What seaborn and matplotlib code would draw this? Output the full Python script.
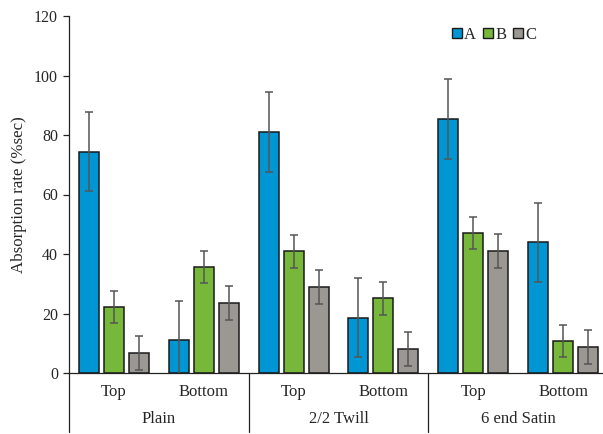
import matplotlib
matplotlib.use("Agg")
import matplotlib.pyplot as plt
import matplotlib.transforms as mtransforms
from matplotlib.patches import Patch
import numpy as np
import pandas as pd
import seaborn as sns

# Fabric structures, each measured on the top and bottom face
structures = ["Plain", "2/2 Twill", "6 end Satin"]
faces = ["Top", "Bottom"]
series = ["A", "B", "C"]

# Absorption rate (%sec), one value per structure/face, in the order
# Plain-Top, Plain-Bottom, Twill-Top, Twill-Bottom, Satin-Top, Satin-Bottom
rate_A = [74.4, 11.1, 81.1, 18.6, 85.3, 43.9]
rate_B = [22.2, 35.6, 40.9, 25.1, 47.1, 10.7]
rate_C = [6.7, 23.5, 29.0, 8.0, 41.1, 8.7]

# Standard deviations for the error bars
err_A = [13.3, 13.2, 13.4, 13.3, 13.4, 13.3]
err_B = [5.5, 5.4, 5.5, 5.5, 5.5, 5.4]
err_C = [5.7, 5.7, 5.7, 5.7, 5.7, 5.7]

colors = {"A": "#0096d3", "B": "#77b83b", "C": "#9b9792"}

sns.set_theme(style="white")
plt.rcParams["font.family"] = ["Liberation Serif", "DejaVu Serif"]

positions = [f"{s}|{f}" for s in structures for f in faces]
rows = []
for name, vals, errs in (("A", rate_A, err_A), ("B", rate_B, err_B), ("C", rate_C, err_C)):
    for pos, v, e in zip(positions, vals, errs):
        rows.append({"pos": pos, "series": name, "rate": v, "err": e})
df = pd.DataFrame(rows)

fig = plt.figure(figsize=(6.03, 4.34), dpi=100)
ax = fig.add_axes([69 / 603, 1 - 373 / 434, (608 - 69) / 603, (373 - 16) / 434])

sns.barplot(data=df, x="pos", y="rate", hue="series", order=positions,
            hue_order=series, palette=colors, errorbar=None, width=0.835,
            gap=0.2, edgecolor="#1a1a1a", linewidth=1.1, saturation=1,
            legend=False, ax=ax)

# error bars at the centre of each drawn bar
for container, name in zip(ax.containers, series):
    sub = df[df["series"] == name].set_index("pos").loc[positions]
    xs = [p.get_x() + p.get_width() / 2 for p in container.patches]
    hs = [p.get_height() for p in container.patches]
    ax.errorbar(xs, hs, yerr=sub["err"].values, fmt="none", ecolor="#555555",
                elinewidth=1.1, capsize=3, capthick=1.1, zorder=5)

ax.set_xlim(-0.5, len(positions) - 0.5)
ax.set_ylim(0, 120)
ax.set_yticks(np.arange(0, 121, 20))
ax.tick_params(axis="y", which="major", direction="out", length=4, width=0.9,
               color="#222222", labelsize=11.5, pad=4, left=True)
ax.tick_params(axis="x", length=0, labelsize=12, pad=8)
ax.set_xticks(range(len(positions)))
ax.set_xticklabels([p.split("|")[1] for p in positions])
ax.set_xlabel("")
ax.set_ylabel("Absorption rate (%sec)", fontsize=12.2, labelpad=5)

for side in ("top", "right"):
    ax.spines[side].set_visible(False)
for side in ("left", "bottom"):
    ax.spines[side].set_color("#222222")
    ax.spines[side].set_linewidth(0.9)

# structure separators and labels below the axis
trans = mtransforms.blended_transform_factory(ax.transData, ax.transAxes)
depth = -(432 - 373) / (373 - 16)
for k in range(len(structures) + 1):
    xb = k * len(faces) - 0.5
    ax.plot([xb, xb], [0, depth], transform=trans, color="#222222",
            linewidth=0.9, clip_on=False)
for k, s in enumerate(structures):
    xc = k * len(faces) + (len(faces) - 1) / 2
    ax.text(xc, -(419 - 373) / (373 - 16), s, transform=trans,
            ha="center", va="center", fontsize=12)

handles = [Patch(facecolor=colors[s], edgecolor="#1a1a1a", linewidth=1.0, label=s)
           for s in series]
fig.legend(handles=handles, loc="center", bbox_to_anchor=(494 / 603, 1 - 35 / 434),
           ncol=3, frameon=False, fontsize=12, handlelength=0.6, handleheight=0.6,
           handletextpad=0.15, columnspacing=0.4)

fig.savefig("out.png", dpi=100)
